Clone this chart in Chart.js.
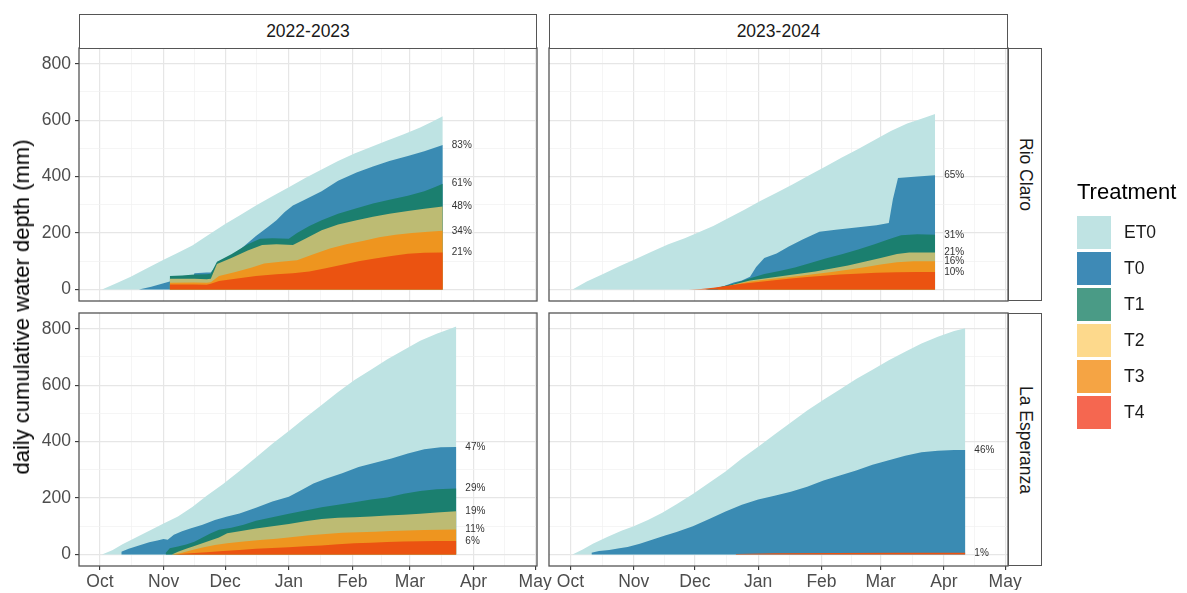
<!DOCTYPE html>
<html>
<head>
<meta charset="utf-8">
<script src="https://cdn.jsdelivr.net/npm/chart.js@4.4.1/dist/chart.umd.min.js"></script>
<style>
  body { margin: 0; background: #fff; }
  #fig { position: relative; width: 1187px; height: 593px; overflow: hidden; font-family: "Liberation Sans", Arial, sans-serif; }
  #fig canvas { position: absolute; left: 0; top: 0; }
  .strip { position: absolute; box-sizing: border-box; border: 1.3px solid #555; background: #fff; color: #1a1a1a; font-size: 17.5px; display: flex; align-items: center; justify-content: center; }
  .strip.v span { writing-mode: vertical-rl; }
  #ytitle { position: absolute; left: 22px; top: 307px; transform: translate(-50%, -50%) rotate(-90deg); font-size: 22px; color: #000; white-space: nowrap; }
  #legend { position: absolute; left: 1077px; top: 178px; }
  #legend .title { font-size: 22px; color: #000; line-height: 28px; margin-bottom: 10px; }
  #legend .item { position: relative; height: 36px; }
  #legend .key { position: absolute; left: 0; top: 0; width: 34px; height: 33px; }
  #legend .lab { position: absolute; left: 47px; top: 0; line-height: 33px; font-size: 17.5px; color: #1a1a1a; }
</style>
</head>
<body>
<div id="fig">
  <canvas id="pRC1" width="1187" height="593"></canvas>
  <canvas id="pRC2" width="1187" height="593"></canvas>
  <canvas id="pLE1" width="1187" height="593"></canvas>
  <canvas id="pLE2" width="1187" height="593"></canvas>
  <div id="strips"></div>
  <div id="ytitle">daily cumulative water depth (mm)</div>
  <div id="legend"></div>
</div>
<script>
// ---- labels and ticks ----
const SEASONS = ['2022-2023', '2023-2024'];
const SITES = ['Rio Claro', 'La Esperanza'];
const TREATMENTS = ['ET0', 'T0', 'T1', 'T2', 'T3', 'T4'];
const MONTHS = ['Oct', 'Nov', 'Dec', 'Jan', 'Feb', 'Mar', 'Apr', 'May'];
// day offsets from 1 October of each season
const MONTH_DAYS_2223 = [0, 31, 61, 92, 123, 151, 182, 212];
const MONTH_DAYS_2324 = [0, 31, 61, 92, 123, 152, 183, 213];
const Y_TICKS = [0, 200, 400, 600, 800];

// ---- cumulative water depth (mm), points are [day since 1 Oct, mm] ----
// Rio Claro 2022-2023
const rc2223_ET0 = [[1,0],[8,22],[15,45],[22,72],[31,105],[38,130],[45,156],[52,190],[61,232],[68,262],[76,298],[84,330],[92,362],[100,395],[108,425],[116,455],[124,482],[132,505],[140,528],[148,550],[156,574],[162,595],[167,614]];
const rc2223_T0 = [[19,0],[25,10],[31,22],[34,28],[40,31],[45,33],[46,58],[52,60],[54,60],[57,88],[62,112],[68,140],[76,190],[82,222],[86,245],[90,275],[94,298],[99,315],[108,348],[116,385],[125,415],[133,436],[141,455],[150,473],[158,490],[167,512]];
const rc2223_T1 = [[34,48],[40,50],[46,53],[52,54],[54,56],[57,98],[64,125],[72,160],[78,180],[84,182],[92,180],[96,200],[102,225],[108,245],[116,268],[125,288],[133,305],[141,318],[150,332],[158,348],[163,362],[167,375]];
const rc2223_T2 = [[34,38],[46,38],[52,36],[54,38],[57,90],[64,112],[72,138],[79,158],[86,160],[94,158],[100,180],[108,210],[116,230],[125,245],[133,258],[141,268],[150,278],[158,286],[167,294]];
const rc2223_T3 = [[34,24],[46,25],[52,24],[54,26],[58,48],[66,62],[74,78],[80,92],[88,98],[96,104],[104,125],[112,145],[120,160],[128,172],[136,185],[144,194],[152,200],[160,205],[167,208]];
const rc2223_T4 = [[34,18],[46,18],[52,17],[54,20],[58,30],[66,38],[76,48],[86,54],[94,58],[102,64],[110,75],[118,88],[126,100],[134,110],[142,119],[150,127],[158,130],[167,131]];

// Rio Claro 2023-2024
const rc2324_ET0 = [[1,0],[8,28],[16,55],[24,82],[32,108],[40,135],[48,160],[56,182],[62,200],[70,225],[77,252],[85,282],[93,314],[101,343],[109,373],[117,405],[125,436],[133,468],[141,498],[149,530],[157,562],[165,588],[172,605],[178.7,622]];
const rc2324_T0 = [[58,0],[66,0],[72,4],[76,14],[80,25],[84,32],[88,45],[91,80],[95,112],[101,128],[107,152],[114,178],[122,205],[130,212],[140,220],[150,228],[156,236],[158,320],[160.5,395],[170,400],[178.7,405]];
const rc2324_T1 = [[66,0],[72,6],[80,20],[88,40],[95,55],[103,66],[110,78],[118,95],[125,110],[133,125],[141,142],[149,160],[156,178],[162,192],[170,196],[178.7,194]];
const rc2324_T2 = [[72,0],[80,18],[88,32],[96,40],[104,48],[112,56],[120,64],[128,74],[136,85],[144,98],[152,112],[160,126],[166,131],[178.7,131]];
const rc2324_T3 = [[72,0],[80,16],[88,28],[96,35],[104,42],[112,48],[120,55],[128,62],[136,70],[144,79],[152,89],[160,97],[168,100],[178.7,100]];
const rc2324_T4 = [[58,0],[64,2],[70,6],[76,12],[84,20],[92,27],[100,33],[108,39],[116,44],[124,49],[132,53],[140,56],[150,59],[160,61],[170,62],[178.7,62]];

// La Esperanza 2022-2023
const le2223_ET0 = [[1,0],[6,15],[11,36],[18,62],[25,88],[31,110],[38,135],[45,168],[52,208],[60,250],[68,296],[76,344],[84,392],[92,438],[100,485],[108,530],[116,576],[124,618],[132,655],[140,692],[148,725],[156,757],[164,782],[170,798],[173.6,808]];
const le2223_T0 = [[10.4,10],[14,20],[19,32],[24,43],[28,50],[31,55],[33,52],[36,70],[40,82],[44,92],[50,105],[56,122],[62,135],[68,145],[76,166],[84,188],[92,205],[98,228],[104,252],[110,268],[118,288],[126,310],[134,325],[142,340],[150,358],[158,373],[166,380],[173.6,381]];
const le2223_T1 = [[32,5],[34,22],[38,28],[42,35],[46,45],[50,60],[54,75],[58,88],[64,95],[70,105],[76,120],[84,132],[92,144],[100,156],[108,167],[116,176],[124,185],[132,195],[140,202],[148,215],[156,225],[164,231],[173.6,234]];
const le2223_T2 = [[35,0],[38,10],[42,20],[46,30],[52,45],[58,60],[62,75],[68,82],[76,92],[84,100],[92,108],[100,118],[108,126],[116,130],[124,132],[132,135],[140,138],[148,141],[156,144],[164,149],[173.6,153]];
const le2223_T3 = [[35,0],[40,6],[44,14],[50,25],[56,34],[62,40],[70,46],[78,51],[86,56],[94,62],[102,68],[110,73],[118,77],[126,79],[134,81],[142,83],[150,85],[158,87],[166,88],[173.6,89]];
const le2223_T4 = [[36,0],[44,4],[52,8],[60,12],[68,16],[76,20],[84,23],[92,26],[100,29],[108,32],[116,36],[124,40],[132,42],[140,44],[148,46],[156,47],[164,48],[173.6,48]];

// La Esperanza 2023-2024
const le2324_ET0 = [[1,0],[6,18],[11,38],[18,62],[25,84],[31,100],[38,122],[45,148],[52,178],[60,214],[68,254],[76,294],[84,340],[92,382],[100,425],[108,468],[116,510],[124,548],[132,585],[140,622],[148,655],[156,688],[164,718],[172,748],[180,772],[188,792],[193.5,802]];
const le2324_T0 = [[10.3,6],[14,12],[19,16],[24,22],[28,27],[34,38],[40,52],[46,66],[52,80],[60,100],[68,126],[76,152],[84,176],[92,195],[100,208],[108,222],[116,240],[124,262],[132,280],[140,298],[148,318],[156,334],[164,350],[172,362],[180,368],[188,370],[193.5,370]];
const le2324_T1 = [];
const le2324_T2 = [];
const le2324_T3 = [];
const le2324_T4 = [[81,2],[100,4],[130,5],[160,6],[193.5,6]];

// ---- styling ----
const AREA_COLORS = ['#bee3e3', '#3a8bb3', '#1b7f6f', '#bdbb73', '#ee951f', '#eb5311'];
const KEY_COLORS = ['#bfe3e3', '#3e8ab6', '#4a9b86', '#fdd98c', '#f5a444', '#f56750'];
const FONT = '"Liberation Sans", Arial, sans-serif';
const W = 1187, H = 593;
const COLS = [[79, 537], [549, 1008]];
const ROWS = [[48, 301], [313, 566]];
const X_RANGE = [[-10.2, 212.9], [-10.5, 214.4]];
const Y_RANGE = [-40.75, 855.75];
const Y_AXIS_W = 60, X_AXIS_H = 24;

const panelBorder = {
  id: 'panelBorder',
  afterDraw(chart) {
    const { ctx, chartArea: a } = chart;
    ctx.save();
    ctx.strokeStyle = '#555';
    ctx.lineWidth = 1.3;
    ctx.strokeRect(a.left, a.top, a.right - a.left, a.bottom - a.top);
    ctx.restore();
  }
};

// share of ET0 reached by each treatment at the end of the season
const endShareLabels = {
  id: 'endShareLabels',
  afterDatasetsDraw(chart) {
    const ds = chart.data.datasets;
    const ref = ds[0].data[ds[0].data.length - 1].y;
    const ctx = chart.ctx;
    ctx.save();
    ctx.font = '10px ' + FONT;
    ctx.fillStyle = '#333';
    ctx.textAlign = 'left';
    ctx.textBaseline = 'middle';
    for (let i = 1; i < ds.length; i++) {
      const pts = chart.getDatasetMeta(i).data;
      if (!pts.length) continue;
      const last = ds[i].data[ds[i].data.length - 1].y;
      const el = pts[pts.length - 1];
      ctx.fillText(Math.round(last / ref * 100) + '%', el.x + 9, el.y);
    }
    ctx.restore();
  }
};

function midpoints(arr) {
  const out = [];
  for (let i = 0; i < arr.length - 1; i++) out.push((arr[i] + arr[i + 1]) / 2);
  return out;
}

function makePanel(id, series, col, row) {
  const [l, r] = COLS[col];
  const [t, b] = ROWS[row];
  const showY = col === 0, showX = row === 1;
  const majorsX = col === 0 ? MONTH_DAYS_2223 : MONTH_DAYS_2324;
  const minorsX = midpoints(majorsX);
  const majorsY = Y_TICKS;
  const minorsY = midpoints(Y_TICKS);
  const isMajorX = v => majorsX.indexOf(v) >= 0;
  const isMajorY = v => majorsY.indexOf(v) >= 0;

  const datasets = series.map((pts, i) => ({
    label: TREATMENTS[i],
    data: pts.map(p => ({ x: p[0], y: p[1] })),
    backgroundColor: AREA_COLORS[i],
    borderColor: 'rgba(0,0,0,0)',
    borderWidth: 0,
    pointRadius: 0,
    fill: 'origin',
    tension: 0,
    order: TREATMENTS.length - i
  }));

  return new Chart(document.getElementById(id), {
    type: 'line',
    data: { datasets },
    options: {
      responsive: false,
      animation: false,
      devicePixelRatio: 1,
      events: [],
      layout: {
        padding: {
          left: showY ? l - Y_AXIS_W : l,
          top: t,
          right: W - r,
          bottom: showX ? H - b - X_AXIS_H : H - b
        }
      },
      plugins: { legend: { display: false }, tooltip: { enabled: false } },
      scales: {
        x: {
          type: 'linear',
          min: X_RANGE[col][0],
          max: X_RANGE[col][1],
          afterBuildTicks: s => { s.ticks = majorsX.concat(minorsX).sort((a, c) => a - c).map(v => ({ value: v })); },
          afterFit: s => { s.height = showX ? X_AXIS_H : 0; },
          border: { display: false },
          grid: {
            color: c => isMajorX(c.tick.value) ? '#e6e6e6' : '#f1f1f1',
            lineWidth: c => isMajorX(c.tick.value) ? 1.2 : 0.7,
            drawTicks: showX,
            tickLength: 4,
            tickWidth: 1.1,
            tickColor: c => isMajorX(c.tick.value) ? '#333' : 'rgba(0,0,0,0)'
          },
          ticks: {
            display: showX,
            autoSkip: false,
            maxRotation: 0,
            padding: 2,
            color: '#4d4d4d',
            font: { family: FONT, size: 17.5 },
            callback: v => isMajorX(v) ? MONTHS[majorsX.indexOf(v)] : ''
          }
        },
        y: {
          type: 'linear',
          position: 'left',
          min: Y_RANGE[0],
          max: Y_RANGE[1],
          afterBuildTicks: s => { s.ticks = majorsY.concat(minorsY).sort((a, c) => a - c).map(v => ({ value: v })); },
          afterFit: s => { s.width = showY ? Y_AXIS_W : 0; },
          border: { display: false },
          grid: {
            color: c => isMajorY(c.tick.value) ? '#e6e6e6' : '#f1f1f1',
            lineWidth: c => isMajorY(c.tick.value) ? 1.2 : 0.7,
            drawTicks: showY,
            tickLength: 4,
            tickWidth: 1.1,
            tickColor: c => isMajorY(c.tick.value) ? '#333' : 'rgba(0,0,0,0)'
          },
          ticks: {
            display: showY,
            padding: 4,
            color: '#4d4d4d',
            font: { family: FONT, size: 17.5 },
            callback: v => isMajorY(v) ? String(v) : ''
          }
        }
      }
    },
    plugins: [panelBorder, endShareLabels]
  });
}

makePanel('pRC1', [rc2223_ET0, rc2223_T0, rc2223_T1, rc2223_T2, rc2223_T3, rc2223_T4], 0, 0);
makePanel('pRC2', [rc2324_ET0, rc2324_T0, rc2324_T1, rc2324_T2, rc2324_T3, rc2324_T4], 1, 0);
makePanel('pLE1', [le2223_ET0, le2223_T0, le2223_T1, le2223_T2, le2223_T3, le2223_T4], 0, 1);
makePanel('pLE2', [le2324_ET0, le2324_T0, le2324_T1, le2324_T2, le2324_T3, le2324_T4], 1, 1);

// facet strips
const strips = document.getElementById('strips');
SEASONS.forEach((s, i) => {
  const d = document.createElement('div');
  d.className = 'strip';
  d.style.left = COLS[i][0] + 'px';
  d.style.top = '14px';
  d.style.width = (COLS[i][1] - COLS[i][0]) + 'px';
  d.style.height = (ROWS[0][0] - 14 + 1) + 'px';
  d.textContent = s;
  strips.appendChild(d);
});
SITES.forEach((s, i) => {
  const d = document.createElement('div');
  d.className = 'strip v';
  d.style.left = COLS[1][1] + 'px';
  d.style.top = ROWS[i][0] + 'px';
  d.style.width = '34px';
  d.style.height = (ROWS[i][1] - ROWS[i][0]) + 'px';
  const sp = document.createElement('span');
  sp.textContent = s;
  d.appendChild(sp);
  strips.appendChild(d);
});

// legend
const legend = document.getElementById('legend');
legend.innerHTML = '<div class="title">Treatment</div>' + TREATMENTS.map((t, i) =>
  '<div class="item"><div class="key" style="background:' + KEY_COLORS[i] + '"></div><div class="lab">' + t + '</div></div>'
).join('');
</script>
</body>
</html>
